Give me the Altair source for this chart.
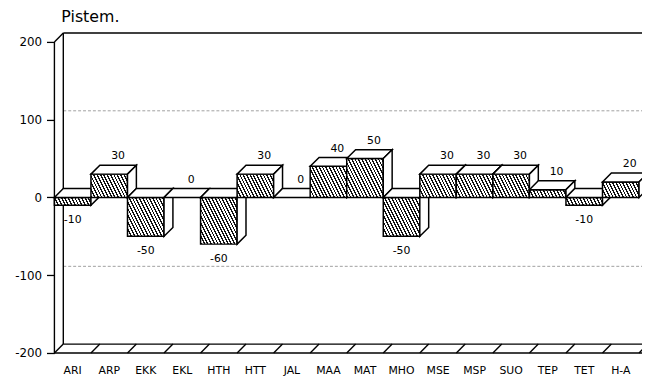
import altair as alt

# ---------------- data ----------------
categories = ["ARI", "ARP", "EKK", "EKL", "HTH", "HTT", "JAL", "MAA",
              "MAT", "MHO", "MSE", "MSP", "SUO", "TEP", "TET", "H-A"]
values = [-10, 30, -50, 0, -60, 30, 0, 40, 50, -50, 30, 30, 30, 10, -10, 20]
y_ticks = [-200, -100, 0, 100, 200]
grid_values = [-100, 100]
title_text = "Pistem."

# ---------------- layout / style ----------------
BAND = 37.0          # px per category
PX_PER_UNIT = 0.7875 # px per value unit
DEPTH = 9.0          # 3D depth in px
PLOT_W = 595
PLOT_H = 324
FONT = "DejaVu Sans"

DXU = DEPTH / BAND
DYU = DEPTH / PX_PER_UNIT
Y_MIN, Y_MAX = y_ticks[0], y_ticks[-1]
X_MAX = PLOT_W / BAND


def hatch(h_px, w_px=BAND, period=3.4, ink=1.4, slope=0.5):
    """Linear gradient with hard stops that looks like diagonal hatching."""
    S = w_px + slope * h_px
    k = S / (w_px ** 2 + (slope * h_px) ** 2)
    stops = []
    j = 0
    while j * period < S:
        a = j * period / S
        b = min((j * period + ink) / S, 1.0)
        c = min((j + 1) * period / S, 1.0)
        stops += [{"offset": a, "color": "#111"}, {"offset": b, "color": "#111"},
                  {"offset": b, "color": "#ffffff"}, {"offset": c, "color": "#ffffff"}]
        j += 1
    return {"gradient": "linear", "x1": 0, "y1": 1,
            "x2": w_px * k, "y2": 1 - slope * h_px * k, "stops": stops}


# faces of the 3D bars, drawn left to right (painter's order)
faces = []
for i, (c, v) in enumerate(zip(categories, values)):
    x0, x1 = float(i), float(i + 1)
    top, bot = float(max(v, 0)), float(min(v, 0))
    fid = f"{i:02d}"
    if v != 0:
        f = hatch(abs(v) * PX_PER_UNIT)
        faces += [dict(face=fid + "a", x=x0, y=bot, y2=top, fill=f),
                  dict(face=fid + "a", x=x1, y=bot, y2=top, fill=f)]
    faces += [dict(face=fid + "b", x=x0, y=top, y2=top, fill="white"),
              dict(face=fid + "b", x=x0 + DXU, y=top, y2=top + DYU, fill="white"),
              dict(face=fid + "b", x=x1, y=top, y2=top + DYU, fill="white"),
              dict(face=fid + "b", x=x1 + DXU, y=top + DYU, y2=top + DYU, fill="white")]
    if v != 0:
        faces += [dict(face=fid + "c", x=x1, y=bot, y2=top, fill="white"),
                  dict(face=fid + "c", x=x1 + DXU, y=bot + DYU, y2=top + DYU, fill="white")]

# frame (left wall, floor, back top)
frame = [
    dict(x=0.0, x2=0.0, y=Y_MIN, y2=Y_MAX),
    dict(x=0.0, x2=DXU, y=Y_MAX, y2=Y_MAX + DYU),
    dict(x=DXU, x2=DXU, y=Y_MIN + DYU, y2=Y_MAX + DYU),
    dict(x=DXU, x2=X_MAX + 1, y=Y_MAX + DYU, y2=Y_MAX + DYU),
    dict(x=0.0, x2=X_MAX + 1, y=Y_MIN, y2=Y_MIN),
    dict(x=DXU, x2=X_MAX + 1, y=Y_MIN + DYU, y2=Y_MIN + DYU),
]
for i in range(len(categories) + 1):
    frame.append(dict(x=float(i), x2=i + DXU, y=Y_MIN, y2=Y_MIN + DYU))

grid = [dict(x=DXU, x2=X_MAX + 1, y=g + DYU, y2=g + DYU) for g in grid_values]

pos_labels = [dict(x=i + 0.5 + DXU, y=max(v, 0) + DYU, t=str(v))
              for i, v in enumerate(values) if v >= 0]
neg_labels = [dict(x=i + 0.5, y=float(v), t=str(v))
              for i, v in enumerate(values) if v < 0]
cat_labels = [dict(x=i + 0.5, y=float(Y_MIN), t=c) for i, c in enumerate(categories)]
title_rows = [dict(x=DXU, y=Y_MAX + DYU, t=title_text)]

# ---------------- scales ----------------
xscale = alt.Scale(domain=[0, X_MAX], nice=False, zero=False)
yscale = alt.Scale(domain=[Y_MIN, Y_MAX + DYU], nice=False, zero=False)
yaxis = alt.Axis(values=y_ticks, title=None, domain=False, grid=False,
                 tickSize=8, tickColor="black", tickWidth=1.3,
                 labelColor="black", labelFont=FONT, labelFontSize=12,
                 labelPadding=5, labelExpr="'' + datum.value")


def X(f="x"):
    return alt.X(f"{f}:Q", scale=xscale, axis=None)


def Y(f="y"):
    return alt.Y(f"{f}:Q", scale=yscale, axis=yaxis, stack=None)


grid_layer = alt.Chart(alt.Data(values=grid)).mark_rule(
    color="#a0a0a0", strokeWidth=1, strokeDash=[3, 2]
).encode(x=X(), x2="x2:Q", y=Y(), y2="y2:Q")

frame_layer = alt.Chart(alt.Data(values=frame)).mark_rule(
    color="black", strokeWidth=1.4
).encode(x=X(), x2="x2:Q", y=Y(), y2="y2:Q")

bars = alt.Chart(alt.Data(values=faces)).mark_area(
    stroke="black", strokeWidth=1.5, strokeJoin="miter", interpolate="linear", opacity=1
).encode(
    x=X(), y=Y(), y2="y2:Q",
    detail="face:N",
    fill=alt.Fill("fill:N", scale=None),
)

pos_text = alt.Chart(alt.Data(values=pos_labels)).mark_text(
    baseline="bottom", dy=-4, font=FONT, fontSize=11, color="black"
).encode(x=X(), y=Y(), text="t:N")

neg_text = alt.Chart(alt.Data(values=neg_labels)).mark_text(
    baseline="top", dy=9, font=FONT, fontSize=11, color="black"
).encode(x=X(), y=Y(), text="t:N")

cat_text = alt.Chart(alt.Data(values=cat_labels)).mark_text(
    baseline="top", dy=12, font=FONT, fontSize=11, color="black"
).encode(x=X(), y=Y(), text="t:N")

title_layer = alt.Chart(alt.Data(values=title_rows)).mark_text(
    align="left", baseline="alphabetic", dx=-2, dy=-11, font=FONT, fontSize=16,
    color="black"
).encode(x=X(), y=Y(), text="t:N")

chart = alt.layer(grid_layer, frame_layer, bars, pos_text, neg_text, cat_text,
                  title_layer).properties(
    width=PLOT_W, height=PLOT_H,
    autosize=alt.AutoSizeParams(type="none"),
    padding={"left": 47, "top": 23, "right": 0, "bottom": 25},
    background="white",
).configure_view(stroke=None)

chart.save("out.html", embed_options={"renderer": "svg", "actions": False})
